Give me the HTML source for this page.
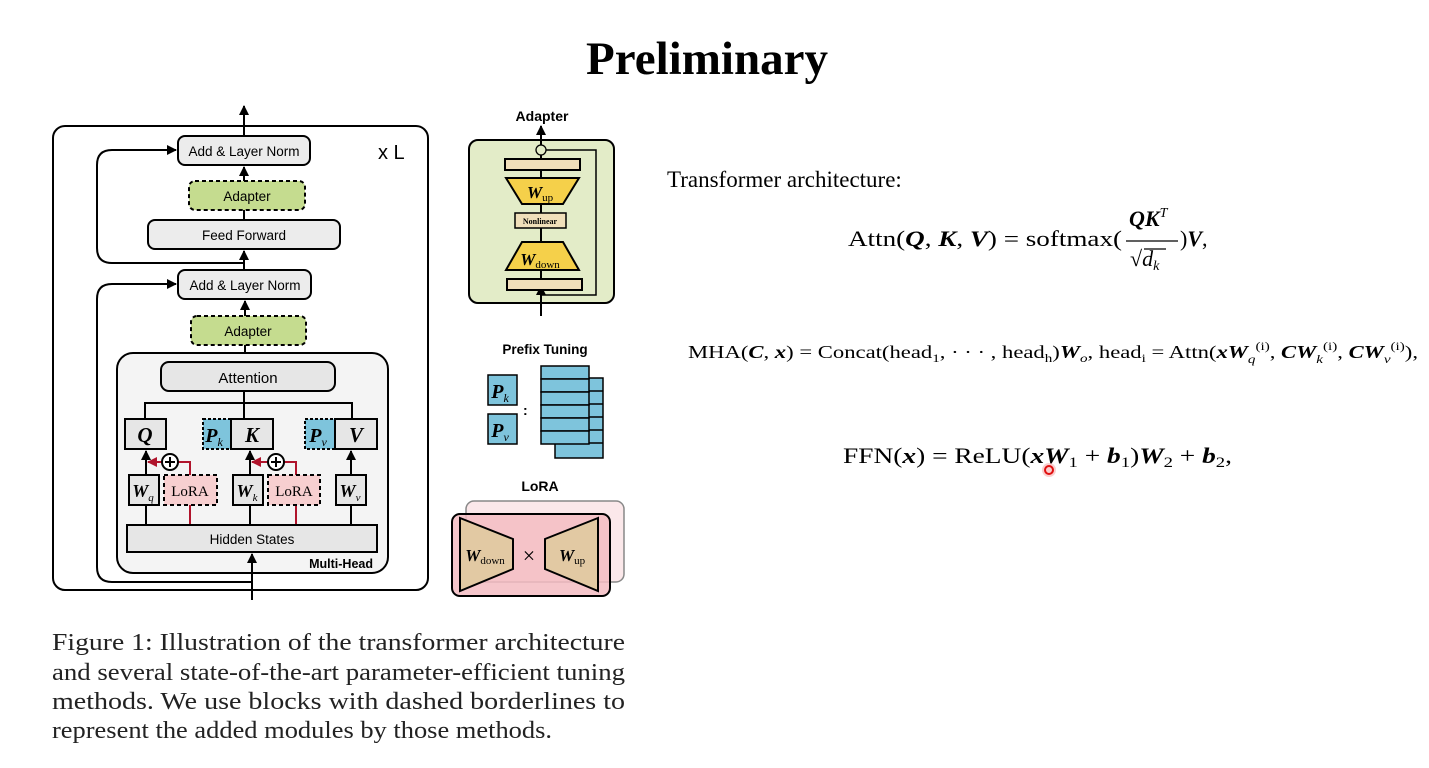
<!DOCTYPE html>
<html><head><meta charset="utf-8"><style>
html,body{margin:0;padding:0;background:#fff;width:1429px;height:768px;overflow:hidden}
svg{display:block}
.s{font-family:"Liberation Sans",sans-serif}
.r{font-family:"Liberation Serif",serif}
</style></head><body>
<svg width="1429" height="768" viewBox="0 0 1429 768" xmlns="http://www.w3.org/2000/svg">
<defs>
<marker id="a" viewBox="0 0 10 10" refX="9" refY="5" markerWidth="5" markerHeight="5" orient="auto"><path d="M0,0L10,5L0,10z" fill="#000"/></marker>
<marker id="ar" viewBox="0 0 10 10" refX="9" refY="5" markerWidth="5" markerHeight="5" orient="auto"><path d="M0,0L10,5L0,10z" fill="#b0142c"/></marker>
</defs>
<text x="707" y="74" text-anchor="middle" class="r" font-size="47" font-weight="bold">Preliminary</text>

<!-- left diagram -->
<rect x="53" y="126" width="375" height="464" rx="12" fill="#fff" stroke="#000" stroke-width="2"/>
<text x="378" y="159" class="s" font-size="20">x L</text>
<line x1="244" y1="136" x2="244" y2="106" stroke="#000" stroke-width="2" marker-end="url(#a)"/>
<path d="M244,263 H112 Q97,263 97,248 V165 Q97,150 112,150 H176" fill="none" stroke="#000" stroke-width="2" marker-end="url(#a)"/>
<path d="M252,582 H112 Q97,582 97,567 V299 Q97,284 112,284 H176" fill="none" stroke="#000" stroke-width="2" marker-end="url(#a)"/>
<line x1="244" y1="181" x2="244" y2="167" stroke="#000" stroke-width="2" marker-end="url(#a)"/>
<line x1="244" y1="220" x2="244" y2="210" stroke="#000" stroke-width="2"/>
<line x1="244" y1="270" x2="244" y2="251" stroke="#000" stroke-width="2" marker-end="url(#a)"/>
<line x1="245" y1="316" x2="245" y2="301" stroke="#000" stroke-width="2" marker-end="url(#a)"/>
<line x1="245" y1="353" x2="245" y2="345" stroke="#000" stroke-width="2"/>
<rect x="178" y="136" width="132" height="29" rx="7" fill="#ececec" stroke="#000" stroke-width="2"/>
<text x="244" y="156" text-anchor="middle" class="s" font-size="13.5">Add &amp; Layer Norm</text>
<rect x="189" y="181" width="116" height="29" rx="6" fill="#c5dc8f" stroke="#000" stroke-width="2" stroke-dasharray="4,3"/>
<text x="247" y="201" text-anchor="middle" class="s" font-size="13.5">Adapter</text>
<rect x="148" y="220" width="192" height="29" rx="7" fill="#ececec" stroke="#000" stroke-width="2"/>
<text x="244" y="240" text-anchor="middle" class="s" font-size="13.5">Feed Forward</text>
<rect x="178" y="270" width="133" height="29" rx="7" fill="#ececec" stroke="#000" stroke-width="2"/>
<text x="245" y="290" text-anchor="middle" class="s" font-size="13.5">Add &amp; Layer Norm</text>
<rect x="191" y="316" width="115" height="29" rx="6" fill="#c5dc8f" stroke="#000" stroke-width="2" stroke-dasharray="4,3"/>
<text x="248" y="336" text-anchor="middle" class="s" font-size="13.5">Adapter</text>
<rect x="117" y="353" width="271" height="220" rx="16" fill="#f4f4f4" stroke="#000" stroke-width="2"/>
<rect x="161" y="362" width="174" height="29" rx="8" fill="#e6e6e6" stroke="#000" stroke-width="2"/>
<text x="248" y="383" text-anchor="middle" class="s" font-size="15">Attention</text>
<path d="M145,419 V403 H352 V419 M244,391 V419" fill="none" stroke="#000" stroke-width="2"/>
<rect x="125" y="419" width="41" height="30" fill="#e6e6e6" stroke="#000" stroke-width="2"/>
<text x="145" y="442" text-anchor="middle" class="r" font-size="21" font-weight="bold" font-style="italic">Q</text>
<rect x="203" y="419" width="28" height="30" fill="#7ec4dc" stroke="#000" stroke-width="2" stroke-dasharray="3,2"/>
<text x="214" y="442" text-anchor="middle" class="r" font-size="20" font-weight="bold" font-style="italic">P<tspan font-size="12" font-weight="normal" dy="4">k</tspan></text>
<rect x="231" y="419" width="42" height="30" fill="#e6e6e6" stroke="#000" stroke-width="2"/>
<text x="252" y="442" text-anchor="middle" class="r" font-size="21" font-weight="bold" font-style="italic">K</text>
<rect x="305" y="419" width="30" height="30" fill="#7ec4dc" stroke="#000" stroke-width="2" stroke-dasharray="3,2"/>
<text x="318" y="442" text-anchor="middle" class="r" font-size="20" font-weight="bold" font-style="italic">P<tspan font-size="12" font-weight="normal" dy="4">v</tspan></text>
<rect x="335" y="419" width="42" height="30" fill="#e6e6e6" stroke="#000" stroke-width="2"/>
<text x="356" y="442" text-anchor="middle" class="r" font-size="21" font-weight="bold" font-style="italic">V</text>
<line x1="146" y1="525" x2="146" y2="505" stroke="#000" stroke-width="2"/>
<line x1="146" y1="475" x2="146" y2="451" stroke="#000" stroke-width="2" marker-end="url(#a)"/>
<line x1="250" y1="525" x2="250" y2="505" stroke="#000" stroke-width="2"/>
<line x1="250" y1="475" x2="250" y2="451" stroke="#000" stroke-width="2" marker-end="url(#a)"/>
<line x1="351" y1="525" x2="351" y2="505" stroke="#000" stroke-width="2"/>
<line x1="351" y1="475" x2="351" y2="451" stroke="#000" stroke-width="2" marker-end="url(#a)"/>
<path d="M190,525 V505 M190,475 V462 H178" fill="none" stroke="#b0142c" stroke-width="2"/>
<line x1="162" y1="462" x2="148" y2="462" stroke="#b0142c" stroke-width="2" marker-end="url(#ar)"/>
<path d="M296,525 V505 M296,475 V462 H284" fill="none" stroke="#b0142c" stroke-width="2"/>
<line x1="268" y1="462" x2="252" y2="462" stroke="#b0142c" stroke-width="2" marker-end="url(#ar)"/>
<circle cx="170" cy="462" r="8" fill="#fff" stroke="#000" stroke-width="2"/>
<path d="M165,462H175M170,457V467" stroke="#000" stroke-width="2"/>
<circle cx="276" cy="462" r="8" fill="#fff" stroke="#000" stroke-width="2"/>
<path d="M271,462H281M276,457V467" stroke="#000" stroke-width="2"/>
<rect x="129" y="475" width="30" height="30" fill="#e6e6e6" stroke="#000" stroke-width="2"/>
<text x="143" y="497" text-anchor="middle" class="r" font-size="18" font-weight="bold" font-style="italic">W<tspan font-size="11" font-weight="normal" dy="4">q</tspan></text>
<rect x="164" y="475" width="53" height="30" fill="#f7cfd0" stroke="#000" stroke-width="2" stroke-dasharray="4,3"/>
<text x="190" y="496" text-anchor="middle" class="r" font-size="15">LoRA</text>
<rect x="233" y="475" width="30" height="30" fill="#e6e6e6" stroke="#000" stroke-width="2"/>
<text x="247" y="497" text-anchor="middle" class="r" font-size="18" font-weight="bold" font-style="italic">W<tspan font-size="11" font-weight="normal" dy="4">k</tspan></text>
<rect x="268" y="475" width="52" height="30" fill="#f7cfd0" stroke="#000" stroke-width="2" stroke-dasharray="4,3"/>
<text x="294" y="496" text-anchor="middle" class="r" font-size="15">LoRA</text>
<rect x="336" y="475" width="30" height="30" fill="#e6e6e6" stroke="#000" stroke-width="2"/>
<text x="350" y="497" text-anchor="middle" class="r" font-size="18" font-weight="bold" font-style="italic">W<tspan font-size="11" font-weight="normal" dy="4">v</tspan></text>
<rect x="127" y="525" width="250" height="27" fill="#e6e6e6" stroke="#000" stroke-width="2"/>
<text x="252" y="544" text-anchor="middle" class="s" font-size="13.5">Hidden States</text>
<text x="373" y="568" text-anchor="end" class="s" font-size="12.5" font-weight="bold">Multi-Head</text>
<line x1="252" y1="600" x2="252" y2="554" stroke="#000" stroke-width="2" marker-end="url(#a)"/>

<!-- adapter detail -->
<text x="542" y="121" text-anchor="middle" class="s" font-size="14" font-weight="bold">Adapter</text>
<rect x="469" y="140" width="145" height="163" rx="9" fill="#e3ecc8" stroke="#000" stroke-width="2"/>
<path d="M546,150 H596 V295 H542" fill="none" stroke="#000" stroke-width="1.5"/>
<line x1="541" y1="316" x2="541" y2="286" stroke="#000" stroke-width="2" marker-end="url(#a)"/>
<line x1="541" y1="145" x2="541" y2="126" stroke="#000" stroke-width="2" marker-end="url(#a)"/>
<line x1="541" y1="155" x2="541" y2="280" stroke="#000" stroke-width="2"/>
<circle cx="541" cy="150" r="5" fill="#e3ecc8" stroke="#000" stroke-width="1.3"/>
<rect x="505" y="159" width="75" height="11" fill="#f0dfba" stroke="#000" stroke-width="2"/>
<path d="M506,178 H579 L563,204 H522 Z" fill="#f5d04a" stroke="#000" stroke-width="2"/>
<text x="540" y="198" text-anchor="middle" class="r" font-size="17" font-weight="bold" font-style="italic">W<tspan font-size="11" font-weight="normal" font-style="normal" dy="3">up</tspan></text>
<rect x="515" y="213" width="51" height="15" fill="#f0dfba" stroke="#000" stroke-width="1.5"/>
<text x="540" y="224" text-anchor="middle" class="r" font-size="8" font-weight="bold">Nonlinear</text>
<path d="M522,242 H563 L579,270 H506 Z" fill="#f5d04a" stroke="#000" stroke-width="2"/>
<text x="540" y="265" text-anchor="middle" class="r" font-size="17" font-weight="bold" font-style="italic">W<tspan font-size="11" font-weight="normal" font-style="normal" dy="3">down</tspan></text>
<rect x="507" y="279" width="75" height="11" fill="#f0dfba" stroke="#000" stroke-width="2"/>

<!-- prefix -->
<text x="545" y="354" text-anchor="middle" class="s" font-size="13.5" font-weight="bold">Prefix Tuning</text>
<rect x="488" y="375" width="29" height="30" fill="#7ec4dc" stroke="#000" stroke-width="1.5"/>
<text x="500" y="398" text-anchor="middle" class="r" font-size="20" font-weight="bold" font-style="italic">P<tspan font-size="12" font-weight="normal" dy="4">k</tspan></text>
<rect x="488" y="414" width="29" height="30" fill="#7ec4dc" stroke="#000" stroke-width="1.5"/>
<text x="500" y="437" text-anchor="middle" class="r" font-size="20" font-weight="bold" font-style="italic">P<tspan font-size="12" font-weight="normal" dy="4">v</tspan></text>
<text x="523" y="415" class="s" font-size="14" font-weight="bold">:</text>
<g fill="#7ec4dc" stroke="#000" stroke-width="1.5">
<rect x="555" y="378" width="48" height="80"/>
<rect x="541" y="366" width="48" height="13"/><rect x="541" y="379" width="48" height="13"/><rect x="541" y="392" width="48" height="13"/><rect x="541" y="405" width="48" height="13"/><rect x="541" y="418" width="48" height="13"/><rect x="541" y="431" width="48" height="13"/>
<path d="M589,391H603M589,404H603M589,417H603M589,430H603M589,443H603" fill="none"/>
</g>

<!-- lora -->
<text x="540" y="491" text-anchor="middle" class="s" font-size="14" font-weight="bold">LoRA</text>
<rect x="466" y="501" width="158" height="81" rx="8" fill="#fbe8ea" stroke="#888" stroke-width="1.5"/>
<rect x="452" y="514" width="158" height="82" rx="8" fill="#f3bcc2" fill-opacity="0.85" stroke="#000" stroke-width="2"/>
<path d="M460,518 L513,539 V569 L460,591 Z" fill="#e2c9a3" stroke="#000" stroke-width="2"/>
<text x="485" y="561" text-anchor="middle" class="r" font-size="17" font-weight="bold" font-style="italic">W<tspan font-size="11" font-weight="normal" font-style="normal" dy="3">down</tspan></text>
<text x="529" y="563" text-anchor="middle" class="r" font-size="22">×</text>
<path d="M598,518 L545,539 V569 L598,591 Z" fill="#e2c9a3" stroke="#000" stroke-width="2"/>
<text x="572" y="561" text-anchor="middle" class="r" font-size="17" font-weight="bold" font-style="italic">W<tspan font-size="11" font-weight="normal" font-style="normal" dy="3">up</tspan></text>

<!-- caption -->
<g class="r" font-size="24" fill="#222">
<text x="52" y="650" textLength="573" lengthAdjust="spacingAndGlyphs">Figure 1:  Illustration of the transformer architecture</text>
<text x="52" y="680" textLength="573" lengthAdjust="spacingAndGlyphs">and several state-of-the-art parameter-efficient tuning</text>
<text x="52" y="709" textLength="573" lengthAdjust="spacingAndGlyphs">methods.  We use blocks with dashed borderlines to</text>
<text x="52" y="738" textLength="500" lengthAdjust="spacingAndGlyphs">represent the added modules by those methods.</text>
</g>

<!-- right text -->
<text x="667" y="187" class="r" font-size="23">Transformer architecture:</text>
<g class="r" font-size="22">
<text x="848" y="246" textLength="274" lengthAdjust="spacingAndGlyphs">Attn(<tspan font-weight="bold" font-style="italic">Q</tspan>, <tspan font-weight="bold" font-style="italic">K</tspan>, <tspan font-weight="bold" font-style="italic">V</tspan>) = softmax(</text>
<text x="1129" y="226" font-weight="bold" font-style="italic">QK<tspan font-size="14" font-weight="normal" dy="-9">T</tspan></text>
<line x1="1126" y1="241" x2="1178" y2="241" stroke="#000" stroke-width="1.3"/>
<text x="1130" y="266">√<tspan font-style="italic">d<tspan font-size="14" dy="4">k</tspan></tspan></text>
<line x1="1144" y1="249" x2="1166" y2="249" stroke="#000" stroke-width="1.2"/>
<text x="1180" y="246">)<tspan font-weight="bold" font-style="italic">V</tspan>,</text>
</g>
<text x="688" y="358" class="r" font-size="18" textLength="730" lengthAdjust="spacingAndGlyphs">MHA(<tspan font-weight="bold" font-style="italic">C</tspan>, <tspan font-weight="bold" font-style="italic">x</tspan>) = Concat(head<tspan font-size="12" dy="4">1</tspan><tspan dy="-4">, · · · , head</tspan><tspan font-size="12" dy="4">h</tspan><tspan dy="-4">)</tspan><tspan font-weight="bold" font-style="italic">W</tspan><tspan font-size="12" font-style="italic" dy="4">o</tspan><tspan dy="-4">,  head</tspan><tspan font-size="12" dy="4">i</tspan><tspan dy="-4"> = Attn(</tspan><tspan font-weight="bold" font-style="italic">xW</tspan><tspan font-size="12" font-style="italic" dy="5">q</tspan><tspan font-size="12" dy="-13">(i)</tspan><tspan dy="8">, </tspan><tspan font-weight="bold" font-style="italic">CW</tspan><tspan font-size="12" font-style="italic" dy="5">k</tspan><tspan font-size="12" dy="-13">(i)</tspan><tspan dy="8">, </tspan><tspan font-weight="bold" font-style="italic">CW</tspan><tspan font-size="12" font-style="italic" dy="5">v</tspan><tspan font-size="12" dy="-13">(i)</tspan><tspan dy="8">),</tspan></text>
<text x="843" y="463" class="r" font-size="22" textLength="389" lengthAdjust="spacingAndGlyphs">FFN(<tspan font-weight="bold" font-style="italic">x</tspan>) = ReLU(<tspan font-weight="bold" font-style="italic">xW</tspan><tspan font-size="15" dy="4">1</tspan><tspan dy="-4"> + </tspan><tspan font-weight="bold" font-style="italic">b</tspan><tspan font-size="15" dy="4">1</tspan><tspan dy="-4">)</tspan><tspan font-weight="bold" font-style="italic">W</tspan><tspan font-size="15" dy="4">2</tspan><tspan dy="-4"> + </tspan><tspan font-weight="bold" font-style="italic">b</tspan><tspan font-size="15" dy="4">2</tspan><tspan dy="-4">,</tspan></text>
<circle cx="1049" cy="470" r="7" fill="#f6a0a0" opacity="0.5"/>
<circle cx="1049" cy="470" r="4" fill="none" stroke="#e01010" stroke-width="2"/>
</svg>
</body></html>
